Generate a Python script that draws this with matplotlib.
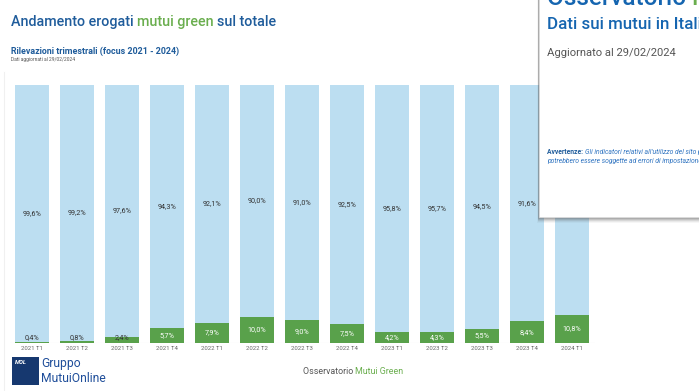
import matplotlib.pyplot as plt
from matplotlib.patches import Rectangle

plt.rcParams['font.family'] = ['Roboto', 'DejaVu Sans']

# data
quarters = ['2021 T1', '2021 T2', '2021 T3', '2021 T4', '2022 T1', '2022 T2', '2022 T3',
            '2022 T4', '2023 T1', '2023 T2', '2023 T3', '2023 T4', '2024 T1']
green_share = [0.4, 0.8, 2.4, 5.7, 7.9, 10.0, 9.0, 7.5, 4.2, 4.3, 5.5, 8.4, 10.8]
other_share = [99.6, 99.2, 97.6, 94.3, 92.1, 90.0, 91.0, 92.5, 95.8, 95.7, 94.5, 91.6, 89.2]

W, H = 699, 391
BLUE = '#1F5C9B'
GREEN = '#6AAE4E'
LIGHT = '#BCDEF1'
BAR_GREEN = '#59A14B'


def fx(px):
    return px / W


def fy(py):
    return 1 - py / H


fig = plt.figure(figsize=(W / 100, H / 100), dpi=100)
fig.patch.set_facecolor('white')

# bars
ax = fig.add_axes([fx(9.5), fy(343), fx(585), (343 - 85) / H])
x = list(range(len(quarters)))
ax.bar(x, green_share, width=0.76, color=BAR_GREEN, zorder=2)
ax.bar(x, other_share, width=0.76, bottom=green_share, color=LIGHT, zorder=2)
ax.set_xlim(-0.5, len(quarters) - 0.5)
ax.set_ylim(0, 100)
ax.axhline(0, color='#e6e6e6', lw=0.8, zorder=1)
for s in ax.spines.values():
    s.set_visible(False)
ax.set_yticks([])
ax.set_xticks(x)
ax.set_xticklabels(quarters, fontsize=4.3, color='#666666')
ax.tick_params(axis='x', length=0, pad=2)

for i, (g, o) in enumerate(zip(green_share, other_share)):
    ax.text(i, g + o / 2, f'{o:.1f}%'.replace('.', ','), ha='center', va='center',
            fontsize=5.2, color='#333333', zorder=3)
    col = 'white' if g >= 4 else '#333333'
    ax.text(i, max(g / 2, 2.0), f'{g:.1f}%'.replace('.', ','), ha='center', va='center',
            fontsize=5.2, color=col, zorder=3)

# faint page border on the left
fig.add_artist(plt.Line2D([fx(4), fx(4)], [fy(72), fy(391)], color='#f0f0f0', lw=0.8))

fig.canvas.draw()
renderer = fig.canvas.get_renderer()


def multi_text(x0, y0, parts, **kw):
    # draw coloured pieces one after another on a single line
    xpos = x0
    for txt, col in parts:
        t = fig.text(xpos, y0, txt, color=col, **kw)
        bb = t.get_window_extent(renderer=renderer)
        xpos += bb.width / W
    return xpos


# titles
multi_text(fx(11), fy(22), [('Andamento erogati ', BLUE), ('mutui green ', GREEN),
                            ('sul totale', BLUE)], fontsize=10.3, fontweight='medium',
           va='center')
fig.text(fx(11), fy(51), 'Rilevazioni trimestrali (focus 2021 - 2024)', fontsize=6.4,
         fontweight='bold', color=BLUE, va='center')
fig.text(fx(11), fy(59.5), 'Dati aggiornati al 29/02/2024', fontsize=3.5,
         color='#555555', va='center')

# footer
multi_text(fx(303), fy(371), [('Osservatorio ', '#555555'), ('Mutui Green', GREEN)],
           fontsize=6.4, va='center')

# logo
fig.add_artist(Rectangle((fx(12), fy(385)), fx(27), (385 - 357) / H,
                         facecolor='#16386F', edgecolor='none'))
fig.text(fx(14.5), fy(362), 'MOL', fontsize=4.2, fontweight='bold', fontstyle='italic',
         color='white', va='center')
fig.text(fx(41.5), fy(363), 'Gruppo', fontsize=8.7, color='#1F4E9A', va='center')
fig.text(fx(41.5), fy(378), 'MutuiOnline', fontsize=8.7, color='#1F4E9A', va='center')

# overlay panel with shadow
for k, a in enumerate([0.05, 0.08, 0.12, 0.16, 0.2]):
    off = 6 - k
    fig.add_artist(Rectangle((fx(539 - off * 0.3), fy(217 + off)), 1, (217 + off) / H + 0.01,
                             facecolor='#555555', edgecolor='none', alpha=a, zorder=10))
fig.add_artist(Rectangle((fx(539), fy(217)), 1, 217 / H + 0.01,
                         facecolor='white', edgecolor='#dddddd', lw=0.5, zorder=11))

multi_text(fx(547), fy(5), [('Osservatorio ', '#1565B0'), ('Mutui Green', GREEN)],
           fontsize=17.5, fontweight='medium', va='baseline', zorder=12)
fig.text(fx(547), fy(29), 'Dati sui mutui in Italia', fontsize=12.2, fontweight='medium',
         color='#1565B0', va='baseline', zorder=12)
fig.text(fx(547), fy(53), 'Aggiornato al 29/02/2024', fontsize=8.1, color='#555555',
         va='center', zorder=12)
x1 = multi_text(fx(547), fy(152), [('Avvertenze: ', BLUE)], fontsize=4.9,
                fontweight='bold', va='center', zorder=12)
fig.text(x1, fy(152), "Gli indicatori relativi all'utilizzo del sito potrebbero essere",
         fontsize=4.9, fontstyle='italic', color='#2E73C0', va='center', zorder=12)
fig.text(fx(547), fy(161), 'potrebbero essere soggette ad errori di impostazione',
         fontsize=4.9, fontstyle='italic', color='#2E73C0', va='center', zorder=12)

fig.savefig('out.png', dpi=100)
